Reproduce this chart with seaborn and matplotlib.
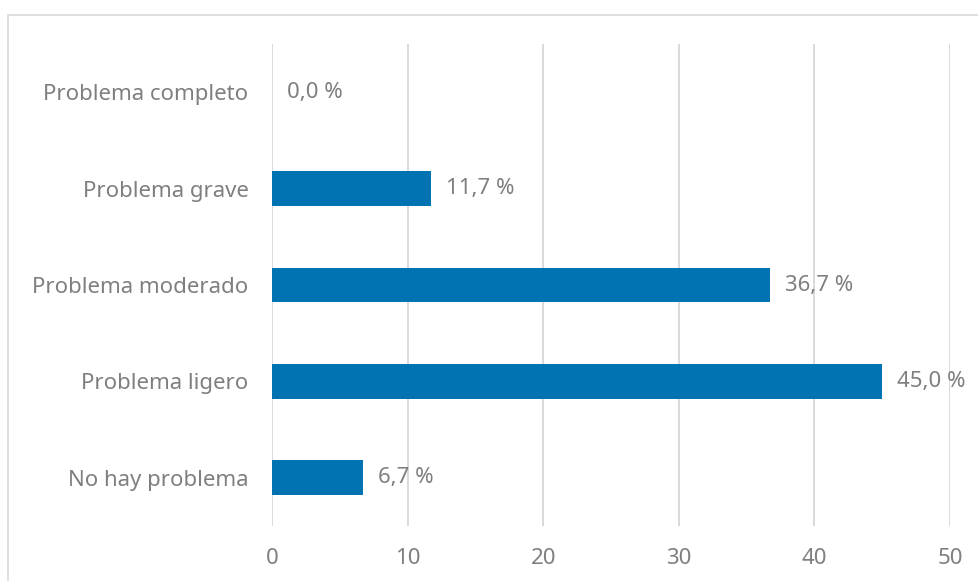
import numpy as np
import pandas as pd
import seaborn as sns
import matplotlib.pyplot as plt
from matplotlib.patches import Rectangle

# Data
categories = ['Problema completo', 'Problema grave', 'Problema moderado',
              'Problema ligero', 'No hay problema']
percentages = [0.0, 11.7, 36.7, 45.0, 6.7]
x_ticks = [0, 10, 20, 30, 40, 50]

df = pd.DataFrame({'categoria': categories, 'porcentaje': percentages})

sns.set_theme(style='white')
plt.rcParams['font.family'] = ['Noto Sans', 'DejaVu Sans']

gray_text = '#7F7F7F'
grid_color = '#D9D9D9'
bar_color = '#0173B2'

fig = plt.figure(figsize=(9.79, 5.81), dpi=100)
ax = fig.add_axes([272 / 979, 1 - 526 / 581, (950 - 272) / 979, (526 - 44) / 581])

sns.barplot(data=df, x='porcentaje', y='categoria', order=categories,
            color=bar_color, width=0.36, saturation=1, linewidth=0, ax=ax)

ax.set_xlim(0, 50)
ax.set_ylim(len(categories) - 0.5, -0.5)
ax.set_xticks(x_ticks)
ax.xaxis.grid(True, color=grid_color, linewidth=1.4)
ax.yaxis.grid(False)
ax.set_axisbelow(True)
for s in ax.spines.values():
    s.set_visible(False)

ax.set_xlabel('')
ax.set_ylabel('')
ax.tick_params(axis='x', length=0, pad=16, labelsize=16, labelcolor=gray_text)
ax.tick_params(axis='y', length=0, pad=17, labelsize=16, labelcolor=gray_text)

labels = [f"{v:.1f}".replace('.', ',') + ' %' for v in percentages]
ax.bar_label(ax.containers[0], labels=labels, padding=11,
             fontsize=16, color=gray_text)

# outer chart frame (extends past right/bottom edge like the reference)
fig.patches.append(Rectangle((8 / 979, -0.05), 1.2, 1 - 15 / 581 + 0.05,
                             transform=fig.transFigure, fill=False,
                             edgecolor=grid_color, linewidth=1.2))

fig.savefig('out.png', dpi=100)
plt.close(fig)
